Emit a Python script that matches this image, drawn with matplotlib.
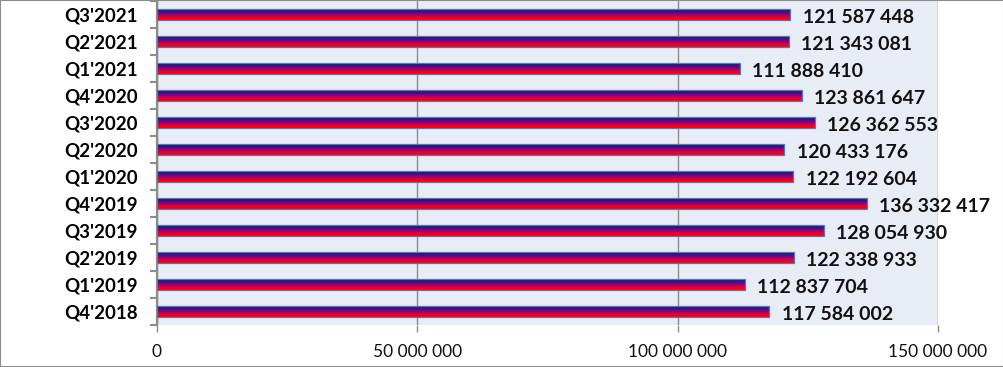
import numpy as np
import matplotlib.pyplot as plt
from matplotlib.colors import LinearSegmentedColormap
from matplotlib.patches import Rectangle

quarters = ["Q4'2018", "Q1'2019", "Q2'2019", "Q3'2019", "Q4'2019", "Q1'2020",
            "Q2'2020", "Q3'2020", "Q4'2020", "Q1'2021", "Q2'2021", "Q3'2021"]
values = [117584002, 112837704, 122338933, 128054930, 136332417, 122192604,
          120433176, 126362553, 123861647, 111888410, 121343081, 121587448]
x_ticks = [0, 50000000, 100000000, 150000000]


def fmt(v):
    return f"{v:,}".replace(",", " ")


plt.rcParams['font.family'] = ['Lato', 'DejaVu Sans']

fig = plt.figure(figsize=(10.04, 3.67), dpi=100)
ax = fig.add_axes([157 / 1004, 1 - 325 / 367, (938 - 157) / 1004, 324 / 367])
ax.set_facecolor('#e8ecf5')

# red at bottom of each bar, navy on top
cmap = LinearSegmentedColormap.from_list(
    'bar', [(0, '#ff0000'), (0.25, '#e8002a'), (0.5, '#9a0070'), (0.75, '#4a0a8a'), (1, '#12126e')])
grad = np.linspace(0, 1, 64).reshape(-1, 1)
h = 0.4

for i, v in enumerate(values):
    ax.imshow(grad, extent=[0, v, i - h / 2, i + h / 2], aspect='auto',
              cmap=cmap, origin='lower', zorder=3, interpolation='bilinear')
    ax.add_patch(Rectangle((0, i - h / 2), v, h, fill=False,
                           edgecolor='#4a7ebb', lw=0.9, zorder=4))
    ax.annotate(fmt(v), (v, i), xytext=(9, -2), textcoords='offset points',
                va='center', ha='left', fontsize=14, fontweight='bold',
                color='#111111', annotation_clip=False, zorder=5)

ax.set_xlim(0, 150000000)
ax.set_ylim(-0.5, len(values) - 0.5)

ax.set_xticks(x_ticks, [fmt(t) for t in x_ticks])
ax.tick_params(axis='x', direction='out', length=5, width=1, color='#8c8c8c',
               pad=9, labelsize=12.5, labelcolor='#111111')
ax.set_yticks(np.arange(-0.5, len(values), 1), [''] * (len(values) + 1))
ax.set_yticks(range(len(values)), quarters, minor=True)
ax.tick_params(axis='y', which='major', direction='out', length=5, width=1.5, color='#8c8c8c')
ax.tick_params(axis='y', which='minor', length=0, pad=14, labelsize=13.5)
for lbl in ax.get_yticklabels(minor=True):
    lbl.set_fontweight('bold')

ax.grid(axis='x', color='#8c8c8c', lw=1, zorder=1)
ax.set_axisbelow(True)
for s in ['top', 'right', 'bottom']:
    ax.spines[s].set_visible(False)
ax.spines['left'].set_color('#8c8c8c')
ax.spines['left'].set_linewidth(1.6)

fig.patches.append(Rectangle((0, 0), 1, 1, transform=fig.transFigure, fill=False,
                             edgecolor='#8c8c8c', lw=1.5))

fig.savefig('out.png', dpi=100)
